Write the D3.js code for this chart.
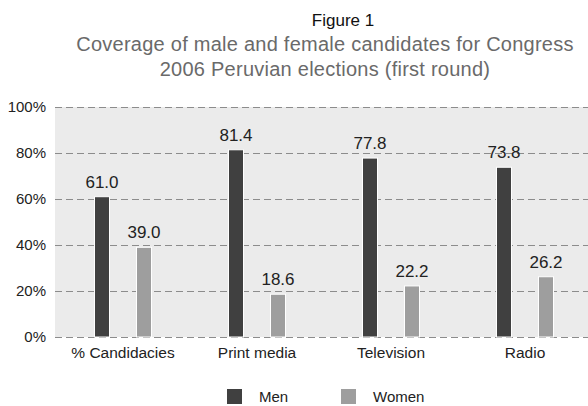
<!DOCTYPE html>
<html>
<head>
<meta charset="utf-8">
<script src="https://cdn.jsdelivr.net/npm/d3@7/dist/d3.min.js"></script>
<style>
  html, body { margin: 0; padding: 0; background: #fff; }
  svg { display: block; font-family: "Liberation Sans", Arial, sans-serif; }
</style>
</head>
<body>
<svg id="chart" width="588" height="406"></svg>
<script>
// Media coverage shares by gender (%)
const categories = ["% Candidacies", "Print media", "Television", "Radio"];
const seriesNames = ["Men", "Women"];
const men = [61.0, 81.4, 77.8, 73.8];
const women = [39.0, 18.6, 22.2, 26.2];
const yTicks = [0, 20, 40, 60, 80, 100];
const titleLines = [
  "Figure 1",
  "Coverage of male and female candidates for Congress",
  "2006 Peruvian elections (first round)"
];

const colors = { Men: "#404040", Women: "#9e9e9e" };

const svg = d3.select("#chart");
const plot = { left: 55, right: 588, top: 107, bottom: 337 };
const barWidth = 15;

const x = d3.scaleBand()
  .domain(categories)
  .range([56, 592]);

// Bar centres inside each category band
const xInner = d3.scalePoint()
  .domain(seriesNames)
  .range([46, 88]);

const y = d3.scaleLinear().domain([0, 100]).range([plot.bottom, plot.top]);

// Titles
svg.append("text")
  .attr("x", 343).attr("y", 26)
  .attr("text-anchor", "middle")
  .attr("font-size", 17).attr("fill", "#111")
  .text(titleLines[0]);
[titleLines[1], titleLines[2]].forEach((t, i) => {
  svg.append("text")
    .attr("x", 325).attr("y", 51 + i * 25)
    .attr("text-anchor", "middle")
    .attr("font-size", 20)
    .attr("letter-spacing", 0.25)
    .attr("fill", "#6a6a6a")
    .text(t);
});

// Plot background
svg.append("rect")
  .attr("x", plot.left).attr("y", plot.top)
  .attr("width", plot.right - plot.left)
  .attr("height", plot.bottom - plot.top)
  .attr("fill", "#ebebeb");

// Gridlines and y labels
const yAxis = d3.axisLeft(y)
  .tickValues(yTicks)
  .tickFormat(d => d + "%")
  .tickSize(-(plot.right - plot.left))
  .tickPadding(9);

const gy = svg.append("g")
  .attr("transform", `translate(${plot.left},0)`)
  .call(yAxis);
gy.select(".domain").remove();
gy.selectAll(".tick line")
  .attr("stroke", "#8c8c8c")
  .attr("stroke-width", 1)
  .attr("stroke-dasharray", "7,4");
gy.selectAll(".tick text")
  .attr("font-size", 15)
  .attr("fill", "#222")
  .attr("font-family", "Liberation Sans, Arial, sans-serif");

// Bars
const rows = categories.map((c, i) => ({ category: c, values: [
  { series: "Men", value: men[i] },
  { series: "Women", value: women[i] }
]}));

const groups = svg.append("g").selectAll("g")
  .data(rows).join("g")
  .attr("transform", d => `translate(${x(d.category)},0)`);

groups.selectAll("rect")
  .data(d => d.values).join("rect")
  .attr("x", d => xInner(d.series) - barWidth / 2)
  .attr("width", barWidth)
  .attr("y", d => y(d.value))
  .attr("height", d => y(0) - y(d.value))
  .attr("fill", d => colors[d.series])
  .attr("stroke", "#fff")
  .attr("stroke-width", 1);

groups.selectAll("text.val")
  .data(d => d.values).join("text")
  .attr("class", "val")
  .attr("x", d => xInner(d.series))
  .attr("y", d => y(d.value) - 9)
  .attr("text-anchor", "middle")
  .attr("font-size", 17)
  .attr("fill", "#222")
  .text(d => d.value.toFixed(1));

// Category axis
const gx = svg.append("g")
  .attr("transform", `translate(0,${plot.bottom})`)
  .call(d3.axisBottom(x).tickSize(0).tickPadding(10));
gx.select(".domain").remove();
gx.selectAll(".tick text")
  .attr("font-size", 15.5)
  .attr("fill", "#222")
  .attr("font-family", "Liberation Sans, Arial, sans-serif");

// Legend
const legend = svg.append("g");
const legendX = [227, 341];
seriesNames.forEach((s, i) => {
  legend.append("rect")
    .attr("x", legendX[i]).attr("y", 389)
    .attr("width", 15).attr("height", 15)
    .attr("fill", colors[s]);
  legend.append("text")
    .attr("x", legendX[i] + 32).attr("y", 402)
    .attr("font-size", 15).attr("fill", "#222")
    .text(s);
});
</script>
</body>
</html>
